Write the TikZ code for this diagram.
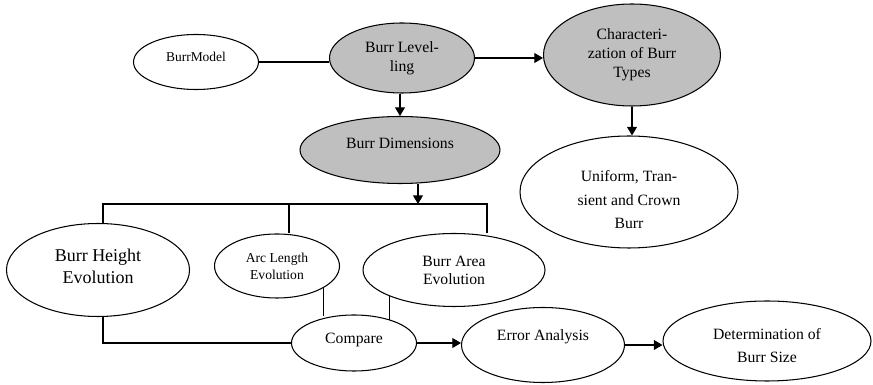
\documentclass[tikz,border=0pt]{standalone}
\usepackage{fontspec}
\setmainfont{Liberation Serif}
\usetikzlibrary{shapes.geometric,arrows.meta}
\usepackage{xcolor}
\definecolor{burrGray}{RGB}{191,191,191}
\newdimen\ux \ux=0.764pt
\tikzset{
    bubble/.style={
        ellipse,draw=black,line width=0.8pt,fill=white,
        align=center,inner sep=0pt,
        font=\fontsize{12}{14.5}\selectfont
    },
    shaded/.style={bubble,fill=burrGray},
    oval/.style 2 args={
        minimum width=#1*\ux,minimum height=#2*\ux
    },
    link/.style={line width=0.8pt,draw=black},
    arrow/.style={
        -{Triangle[length=6.5pt,width=7.5pt]},line width=0.8pt,draw=black
    }
}

\begin{document}
\begin{tikzpicture}[x=0.764pt,y=-0.764pt]

\useasboundingbox (0,0) rectangle (873,385);

% top row
\node[bubble,oval={125}{55},font=\fontsize{10.3}{12}\selectfont,text depth=7.5pt]
(model) at (196,62){BurrModel};

\node[shaded,oval={145}{70}]
(level) at (402,58){Burr Level-\\ling};

\node[shaded,oval={177}{102}]
(charact) at (632,55){Characteri-\\zation of Burr\\Types};

\node[bubble,oval={218}{112},font=\fontsize{12}{17.8}\selectfont,text height=56pt]
(uniform) at (629,192){Uniform, Tran-\\sient and Crown\\Burr};

\node[shaded,oval={200}{67},text depth=10.7pt]
(dims) at (400,150){Burr Dimensions};

% evolution row
\node[bubble,oval={183}{93},font=\fontsize{13.75}{16.8}\selectfont,text depth=6.1pt]
(height) at (98,270){Burr Height\\Evolution};

\node[bubble,oval={125}{64},font=\fontsize{10.4}{13}\selectfont]
(arc) at (277,266){Arc Length\\Evolution};

\node[bubble,oval={182}{73},font=\fontsize{12}{13.75}\selectfont]
(area) at (454,270){Burr Area\\Evolution};

% bottom row
\node[bubble,oval={125}{56},text depth=7.9pt]
(cmp) at (354,343){Compare};

\node[bubble,oval={163}{75},text depth=15.5pt]
(err) at (543,345){Error Analysis};

\node[bubble,oval={208}{80},font=\fontsize{12}{17.6}\selectfont,text height=33.4pt]
(det) at (767,341){Determination of\\Burr Size};

\coordinate (busL) at (103,204);
\coordinate (busA) at (289,204);
\coordinate (busIn) at (418,204);
\coordinate (busR) at (487,204);

\draw[link](model.east)--(model.east -| level.west);
\draw[arrow](level.east)--(level.east -| charact.west);
\draw[arrow](charact.south)--(charact.south |- uniform.north);
\draw[arrow](dims.north |- level.south)--(dims.north);
\draw[arrow](busIn |- dims.south)--(busIn);

\draw[link](busL |- height.north)--(busL)--(busR)--(busR |- area.north);
\draw[link](busA)--(busA |- arc.north);

\draw[link](busL |- height.south)--(busL |- cmp.west)--(cmp.west);
\draw[link](arc.-25)--(arc.-25 |- cmp.128);
\draw[link](area.202)--(area.202 |- cmp.32);

\draw[arrow](cmp.east)--(cmp.east -| err.west);
\draw[arrow](err.east)--(err.east -| det.west);

\end{tikzpicture}
\end{document}
